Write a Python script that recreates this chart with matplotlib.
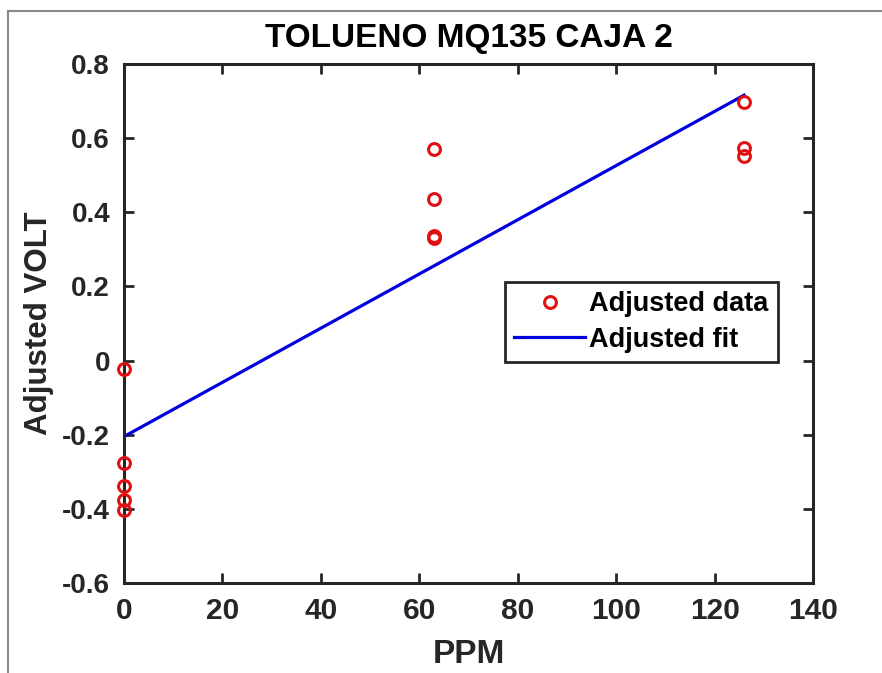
import matplotlib
matplotlib.use("Agg")
import matplotlib.pyplot as plt
from matplotlib.lines import Line2D
import numpy as np

plt.rcParams['font.family'] = ['Liberation Sans', 'DejaVu Sans']
plt.rcParams['font.weight'] = 'bold'

# Data
ppm = [0, 0, 0, 0, 0, 63, 63, 63, 63, 126, 126, 126]
volt = [-0.022, -0.276, -0.338, -0.376, -0.403,
        0.570, 0.436, 0.335, 0.330,
        0.697, 0.574, 0.551]
fit_x = [0, 126]
fit_y = [-0.205, 0.716]

title = "TOLUENO MQ135 CAJA 2"
xlabel = "PPM"
ylabel = "Adjusted VOLT"
xticks = [0, 20, 40, 60, 80, 100, 120, 140]
yticks = [-0.6, -0.4, -0.2, 0, 0.2, 0.4, 0.6, 0.8]
ytick_labels = ["-0.6", "-0.4", "-0.2", "0", "0.2", "0.4", "0.6", "0.8"]

fig = plt.figure(figsize=(8.82, 6.73), dpi=100)
ax = fig.add_axes([124/882, 1-583/673, (813-124)/882, (583-64)/673])

ax.plot(ppm, volt, 'o', mfc='none', mec='#e01010', mew=2.2, ms=8.5,
        label='Adjusted data', zorder=3, clip_on=False)
ax.plot(fit_x, fit_y, '-', color='#0000e0', lw=2.3, label='Adjusted fit', zorder=2)

ax.set_xlim(0, 140)
ax.set_ylim(-0.6, 0.8)
ax.set_xticks(xticks)
ax.set_xticklabels([str(t) for t in xticks], fontsize=21.5,
                   fontweight='bold', color='#262626')
ax.set_yticks(yticks)
ax.set_yticklabels(ytick_labels)

for s in ax.spines.values():
    s.set_linewidth(2.2)
    s.set_color('#262626')
ax.tick_params(direction='in', length=7, width=2, color='#262626',
               top=True, right=True)
ax.tick_params(axis='y', pad=10, labelsize=20, labelcolor='#262626')
ax.tick_params(axis='x', pad=10)
for lab in ax.get_yticklabels():
    lab.set_fontweight('bold')

ax.set_title(title, fontsize=24, fontweight='bold', pad=12)
ax.set_xlabel(xlabel, fontsize=24, fontweight='bold', color='#262626', labelpad=10)
ax.set_ylabel(ylabel, fontsize=22.5, fontweight='bold', color='#262626', labelpad=6)

leg = ax.legend(loc='upper left', bbox_to_anchor=((505-124)/689, 1-(282-64)/519),
                fontsize=19.5, frameon=True, fancybox=False, framealpha=1,
                edgecolor='#262626', borderpad=0.35, handlelength=2.6,
                handletextpad=0.15, labelspacing=0.35, borderaxespad=0)
leg.get_frame().set_linewidth(2)
for t in leg.get_texts():
    t.set_fontweight('bold')

# figure border (top and left visible)
fig.add_artist(Line2D([8/882, 8/882], [0, 1-11/673], transform=fig.transFigure,
                      color='#888888', lw=1.5))
fig.add_artist(Line2D([8/882, 1], [1-11/673, 1-11/673], transform=fig.transFigure,
                      color='#888888', lw=1.5))

fig.savefig("out.png", dpi=100)
